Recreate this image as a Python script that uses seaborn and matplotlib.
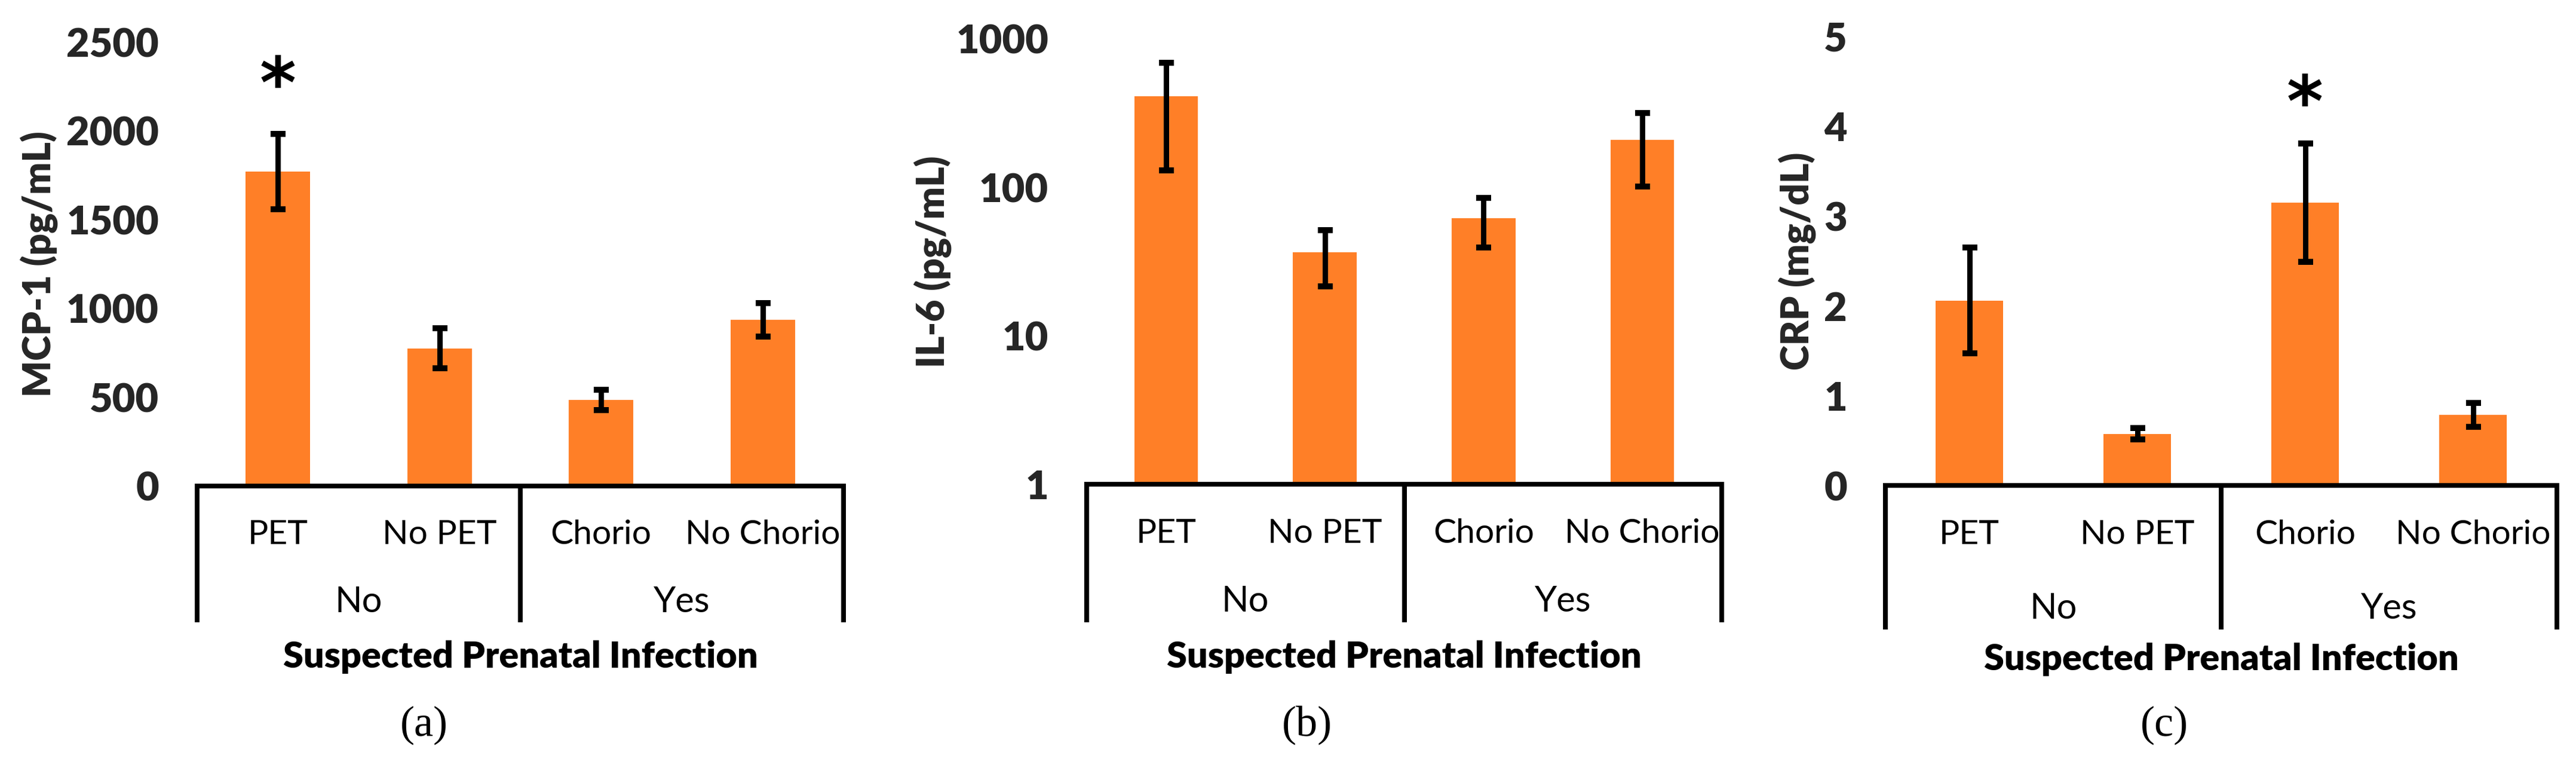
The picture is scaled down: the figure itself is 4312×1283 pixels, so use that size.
import matplotlib
matplotlib.use("Agg")
import matplotlib.pyplot as plt
import seaborn as sns
import pandas as pd
from matplotlib.transforms import blended_transform_factory as btf

# ---------------- data ----------------
categories = ["PET", "No PET", "Chorio", "No Chorio"]
group_of = ["No", "No", "Yes", "Yes"]
groups = ["No", "Yes"]

mcp1_mean = [1770, 775, 485, 935]
mcp1_err = [213, 112, 58, 93]
il6_mean = [411, 36.5, 62, 209]
il6_err = [281, 15, 22.5, 108]
crp_mean = [2.06, 0.575, 3.15, 0.785]
crp_err = [0.59, 0.065, 0.66, 0.135]

mcp1_ticks = [0, 500, 1000, 1500, 2000, 2500]
il6_ticks = [1, 10, 100, 1000]
crp_ticks = [0, 1, 2, 3, 4, 5]

ylabels = ["MCP-1 (pg/mL)", "IL-6 (pg/mL)", "CRP (mg/dL)"]
xlabel = "Suspected Prenatal Infection"
panel_labels = ["(a)", "(b)", "(c)"]
star_cat = ["PET", None, "Chorio"]
star_y = [2240, None, 4.22]

# ---------------- style ----------------
sns.set_theme(style="white")
plt.rcParams["font.family"] = ["Lato", "DejaVu Sans"]

W, H, DPI = 4312, 1283, 200
PX = 72.0 / DPI  # points per pixel
BAR_COLOR = "#FF7F27"

fig = plt.figure(figsize=(W / DPI, H / DPI), dpi=DPI)
fig.patch.set_facecolor("white")

layout = [
    dict(box=(330, 1412, 70, 813), bracket=1041, cat_base=910, grp_base=1024,
         xl_base=1117, plabel=(710, 1231), ylab_x=65),
    dict(box=(1819, 2882, 65, 810), bracket=1041, cat_base=908, grp_base=1023,
         xl_base=1117, plabel=(2188, 1231), ylab_x=1561),
    dict(box=(3156, 4280, 61, 812), bracket=1053, cat_base=910, grp_base=1035,
         xl_base=1121, plabel=(3623, 1231), ylab_x=3008),
]

series = [
    (mcp1_mean, mcp1_err, mcp1_ticks, False),
    (il6_mean, il6_err, il6_ticks, True),
    (crp_mean, crp_err, crp_ticks, False),
]

for i, (means, errs, ticks, logy) in enumerate(series):
    L = layout[i]
    left, right, top, bottom = L["box"]
    ax = fig.add_axes([left / W, 1 - bottom / H, (right - left) / W, (bottom - top) / H])
    df = pd.DataFrame({"cat": categories, "val": means})
    sns.barplot(data=df, x="cat", y="val", order=categories, color=BAR_COLOR,
                saturation=1, width=0.4, errorbar=None, ax=ax,
                log_scale=(False, True) if logy else None, linewidth=0)
    ax.errorbar(range(len(categories)), means, yerr=errs, fmt="none",
                ecolor="black", elinewidth=9 * PX, capsize=12.5 * PX,
                capthick=10 * PX, zorder=5)

    ax.set_xlim(-0.5, len(categories) - 0.5)
    ax.set_ylim(ticks[0], ticks[-1])
    if logy:
        ax.set_yscale("log")
        ax.minorticks_off()
    ax.set_yticks(ticks)
    ax.set_yticklabels([str(t) for t in ticks], fontweight="heavy", fontsize=24)
    ax.tick_params(axis="y", length=0, pad=64 * PX)
    ax.tick_params(axis="x", length=0, labelbottom=False)
    ax.set_xlabel("")
    for s in ["left", "right", "top"]:
        ax.spines[s].set_visible(False)
    ax.spines["bottom"].set_linewidth(8 * PX)
    ax.spines["bottom"].set_color("black")
    ax.spines["bottom"].set_zorder(6)
    ax.set_facecolor("white")
    ax.grid(False)

    # y label
    ax.set_ylabel(ylabels[i], fontweight="heavy", fontsize=23)
    ax.yaxis.label.set_verticalalignment("center")
    ax.yaxis.set_label_coords((L["ylab_x"] - left) / (right - left), 0.5)

    h = bottom - top
    tr_x_axes = btf(ax.transData, ax.transAxes)

    # category labels
    for j, c in enumerate(categories):
        ax.text(j, (bottom - L["cat_base"]) / h, c, transform=tr_x_axes,
                ha="center", va="baseline", fontsize=20.5, color="black")

    # group labels and bracket lines
    bounds = [-0.5]
    for g in groups:
        idx = [j for j, gg in enumerate(group_of) if gg == g]
        ax.text(sum(idx) / len(idx), (bottom - L["grp_base"]) / h, g,
                transform=tr_x_axes, ha="center", va="baseline",
                fontsize=21.5, color="black")
        bounds.append(max(idx) + 0.5)
    yb = (bottom - L["bracket"]) / h
    for b in bounds:
        ax.plot([b, b], [0, yb], transform=tr_x_axes, clip_on=False,
                color="black", lw=8 * PX, solid_capstyle="butt", zorder=6)

    # x label
    ax.text(0.5, (bottom - L["xl_base"]) / h, xlabel, transform=ax.transAxes,
            ha="center", va="baseline", fontsize=22, fontweight="heavy",
            color="black")

    # significance star
    if star_cat[i] is not None:
        ax.text(categories.index(star_cat[i]), star_y[i], "*", ha="center",
                va="center", fontsize=42, fontweight="bold", color="black",
                family=["DejaVu Sans"])

    # panel label
    px, pb = L["plabel"]
    fig.text(px / W, 1 - pb / H, panel_labels[i], ha="center", va="baseline",
             fontsize=26, family=["Liberation Serif", "DejaVu Serif"],
             color="black")

fig.savefig("out.png", dpi=DPI, facecolor="white")
